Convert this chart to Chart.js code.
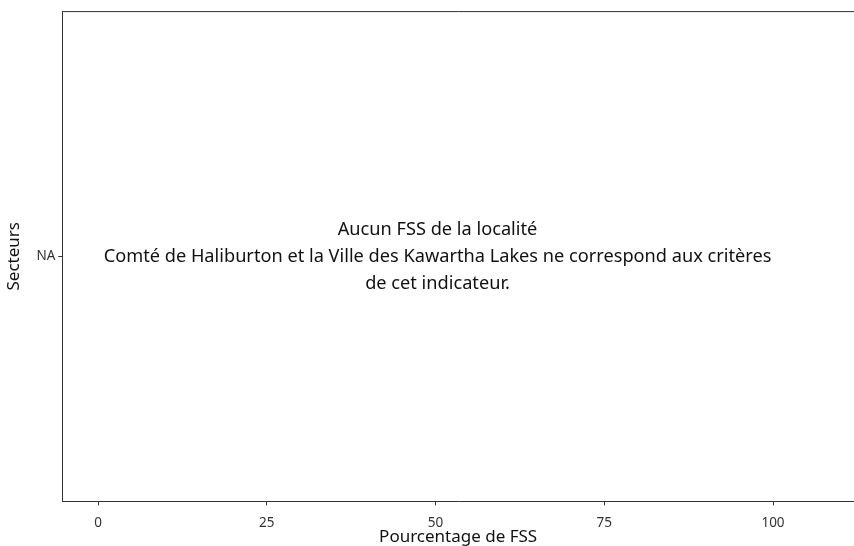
<!DOCTYPE html>
<html lang="fr">
<head>
<meta charset="UTF-8">
<title>Pourcentage de FSS</title>
<script src="https://cdn.jsdelivr.net/npm/chart.js"></script>
<style>
  html, body { margin: 0; padding: 0; background: #fff; }
  canvas { display: block; }
</style>
</head>
<body>
<canvas id="chart" width="854" height="546"></canvas>
<script>
// data
const categories = ['NA'];
const xTicks = [0, 25, 50, 75, 100];
const xRange = [-5.3, 112];
const values = [];   // aucune donnée
const messageLines = [
  'Aucun FSS de la localité',
  'Comté de Haliburton et la Ville des Kawartha Lakes ne correspond aux critères',
  'de cet indicateur.'
];
const xTitle = 'Pourcentage de FSS';
const yTitle = 'Secteurs';

const FONT = '"Noto Sans", Lato, sans-serif';

// message au centre du panneau + bordure du haut
const messagePlugin = {
  id: 'message',
  afterDraw(chart) {
    const ctx = chart.ctx;
    const area = chart.chartArea;
    ctx.save();
    ctx.strokeStyle = '#333';
    ctx.lineWidth = 1;
    ctx.beginPath();
    ctx.moveTo(area.left, area.top + 0.5);
    ctx.lineTo(area.right, area.top + 0.5);
    ctx.stroke();

    const cx = chart.scales.x.getPixelForValue(50) + 2;
    const cy = chart.scales.y.getPixelForValue(0) + 1;
    ctx.fillStyle = '#111';
    ctx.font = '18.2px ' + FONT;
    ctx.textAlign = 'center';
    ctx.textBaseline = 'middle';
    const lh = 27;
    messageLines.forEach((t, i) => {
      ctx.fillText(t, cx, cy + (i - 1) * lh);
    });
    ctx.restore();
  }
};

new Chart(document.getElementById('chart'), {
  type: 'scatter',
  data: {
    labels: categories,
    datasets: [{ data: values, pointRadius: 0 }]
  },
  options: {
    responsive: false,
    animation: false,
    layout: { padding: { top: -1, right: -10, left: 4, bottom: -1 } },
    plugins: { legend: { display: false }, tooltip: { enabled: false } },
    scales: {
      x: {
        type: 'linear',
        min: xRange[0],
        max: xRange[1],
        afterBuildTicks: s => { s.ticks = xTicks.map(v => ({ value: v })); },
        grid: { drawOnChartArea: false, drawTicks: true, tickLength: 4, tickColor: '#333', tickWidth: 1 },
        border: { display: true, color: '#333', width: 1 },
        ticks: { color: '#333', font: { family: FONT, size: 13.5 }, padding: 10, maxRotation: 0 },
        title: { display: true, text: xTitle, color: '#111', font: { family: FONT, size: 17 }, padding: { top: -15, bottom: 0 } }
      },
      y: {
        type: 'category',
        labels: categories,
        offset: true,
        grid: { drawOnChartArea: false, drawTicks: true, tickLength: 4, tickColor: '#333', tickWidth: 1, offset: false },
        border: { display: true, color: '#333', width: 1 },
        ticks: { color: '#333', font: { family: FONT, size: 13.5 }, padding: 3 },
        title: { display: true, text: yTitle, color: '#111', font: { family: FONT, size: 17 }, padding: { top: 0, bottom: 9 } }
      }
    }
  },
  plugins: [messagePlugin]
});
</script>
</body>
</html>
